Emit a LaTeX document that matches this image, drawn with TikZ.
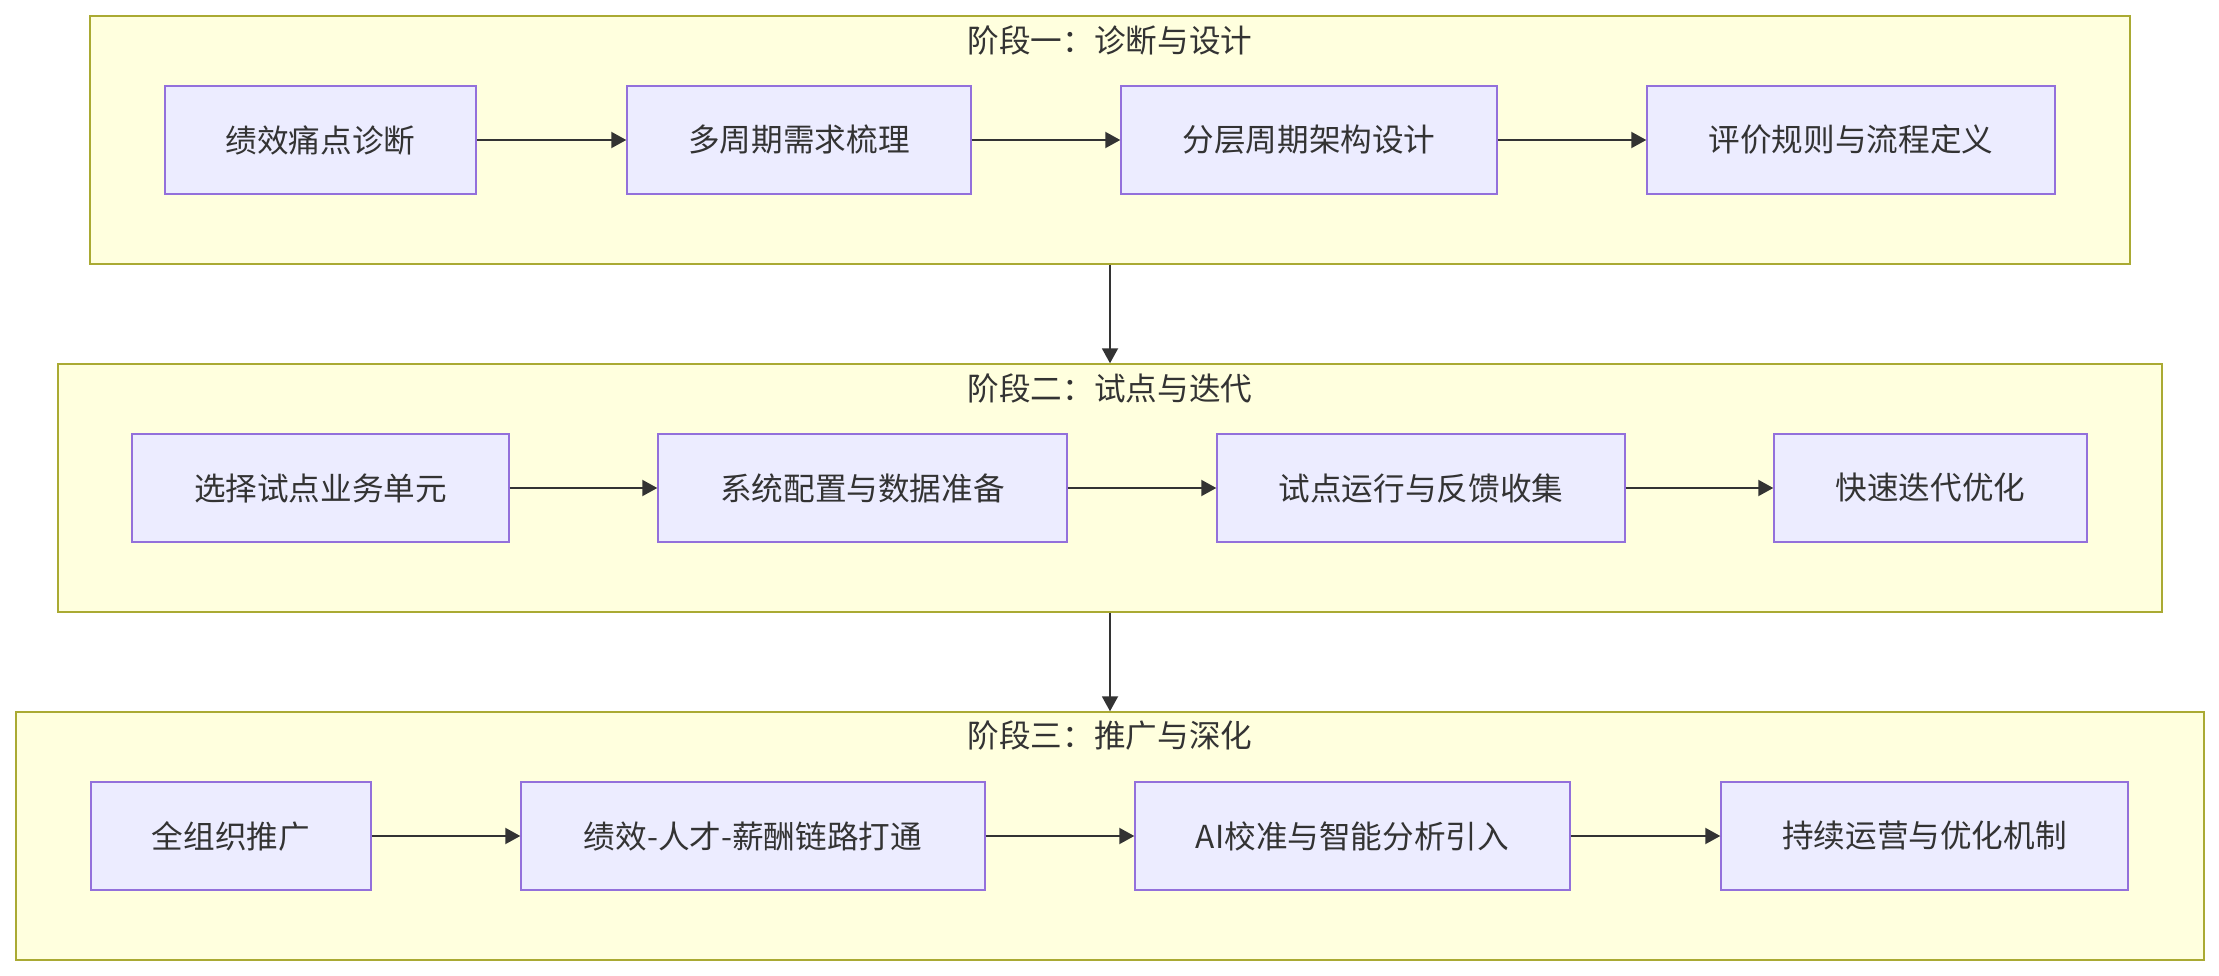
\documentclass[tikz,border=0pt]{standalone}
\usepackage{fontspec}
\newfontfamily\cjk{Noto Sans CJK SC}
\usepackage{xcolor}
\usepackage{tikz}
\usetikzlibrary{arrows.meta, positioning}
\definecolor{phasefill}{HTML}{FFFFDE}
\definecolor{phaseline}{HTML}{AAAA33}
\definecolor{taskfill}{HTML}{ECECFF}
\definecolor{taskline}{HTML}{9370DB}
\definecolor{inkgray}{HTML}{333333}
\tikzset{
  phase/.style={draw=phaseline, fill=phasefill, line width=0.85pt, inner sep=0pt, minimum height=4.96cm},
  phasetitle/.style={text=inkgray, font=\cjk\fontsize{18pt}{22pt}\selectfont},
  task/.style={draw=taskline, fill=taskfill, line width=0.85pt, inner sep=0pt, minimum height=2.16cm,
    text=inkgray, font=\cjk\fontsize{18pt}{22pt}\selectfont},
  flow/.style={draw=inkgray, line width=1.1pt, -{Triangle[length=0.3cm, width=0.32cm]}}
}

\begin{document}
\begin{tikzpicture}[x=0.02cm, y=-0.02cm]
  \useasboundingbox (0,0) rectangle (2219,976);
  \node[phase, minimum width=40.8cm] (p1) at (1110,140) {};
  \node[phase, minimum width=42.08cm] (p2) at (1110,488) {};
  \node[phase, minimum width=43.76cm] (p3) at (1110,836) {};
  \node[phasetitle] (t1) at (1110,40) {阶段一：诊断与设计};
  \node[phasetitle] (t2) at (1110,388) {阶段二：试点与迭代};
  \node[phasetitle] (t3) at (1110,736) {阶段三：推广与深化};

  \node[task, minimum width=6.22cm] (a1) at (320.5,140) {绩效痛点诊断};
  \node[task, minimum width=6.88cm] (a2) at (799,140) {多周期需求梳理};
  \node[task, minimum width=7.52cm] (a3) at (1309,140) {分层周期架构设计};
  \node[task, minimum width=8.16cm] (a4) at (1851,140) {评价规则与流程定义};

  \node[task, minimum width=7.54cm] (b1) at (320.5,488) {选择试点业务单元};
  \node[task, minimum width=8.18cm] (b2) at (862.5,488) {系统配置与数据准备};
  \node[task, minimum width=8.16cm] (b3) at (1421,488) {试点运行与反馈收集};
  \node[task, minimum width=6.26cm] (b4) at (1930.5,488) {快速迭代优化};

  \node[task, minimum width=5.6cm] (c1) at (231,836) {全组织推广};
  \node[task, minimum width=9.28cm] (c2) at (753,836) {绩效-人才-薪酬链路打通};
  \node[task, minimum width=8.7cm] (c3) at (1352.5,836) {AI校准与智能分析引入};
  \node[task, minimum width=8.14cm] (c4) at (1924.5,836) {持续运营与优化机制};

  \draw[flow] (a1) -- (a2);
  \draw[flow] (a2) -- (a3);
  \draw[flow] (a3) -- (a4);
  \draw[flow] (b1) -- (b2);
  \draw[flow] (b2) -- (b3);
  \draw[flow] (b3) -- (b4);
  \draw[flow] (c1) -- (c2);
  \draw[flow] (c2) -- (c3);
  \draw[flow] (c3) -- (c4);
  \draw[flow] (p1.south) -- (p2.north);
  \draw[flow] (p2.south) -- (p3.north);
\end{tikzpicture}
\end{document}
